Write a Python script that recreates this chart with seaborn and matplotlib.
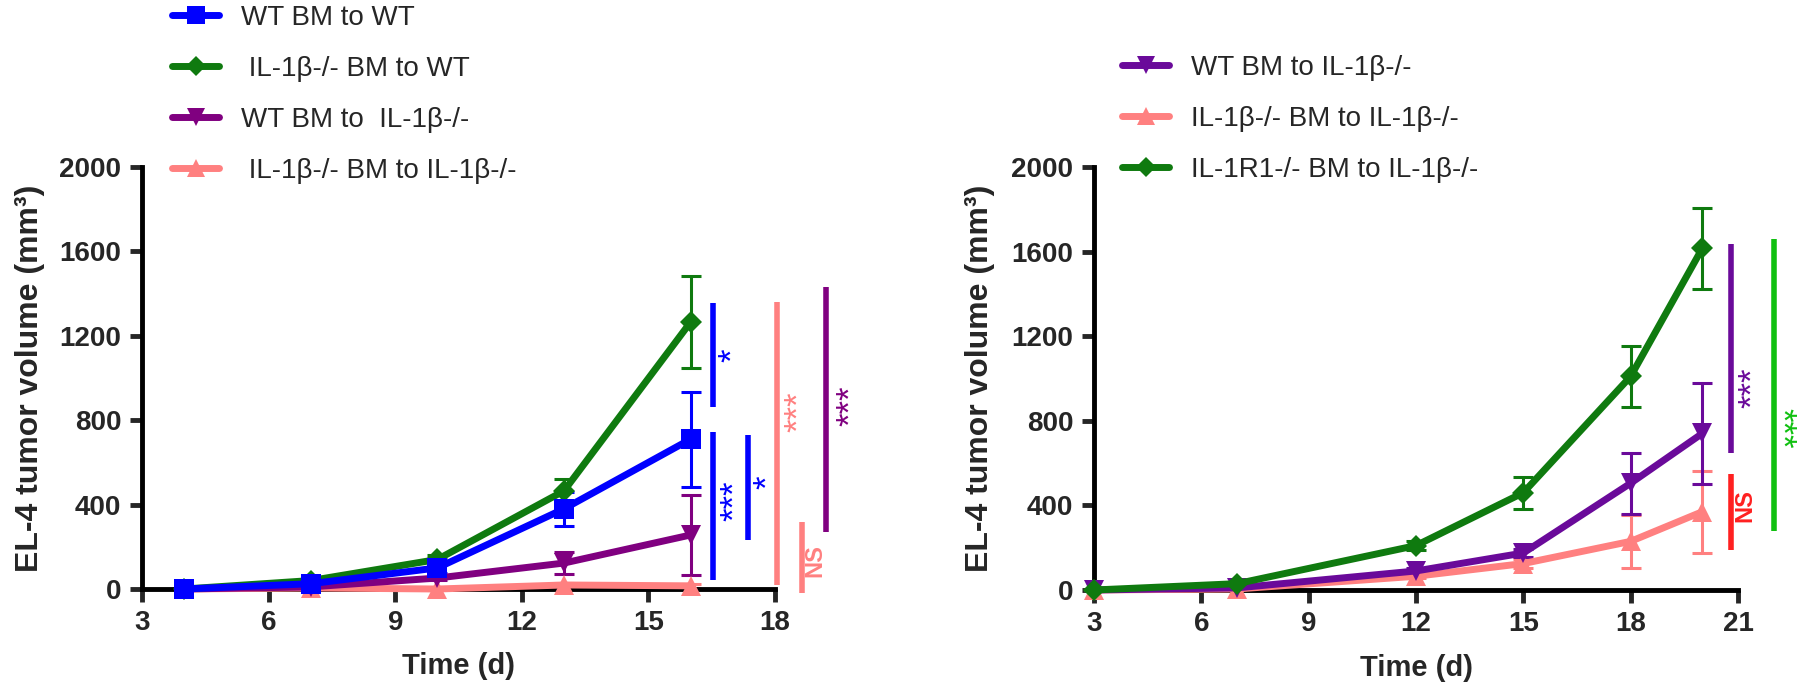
import numpy as np
import pandas as pd
import seaborn as sns
import matplotlib.pyplot as plt
from matplotlib.lines import Line2D

sns.set_style('white')
plt.rcParams['font.family'] = ['Liberation Sans', 'DejaVu Sans']

# ---- left panel data ----
days_left = [4, 7, 10, 13, 16]
wt_to_wt = [0, 25, 100, 380, 710]
wt_to_wt_err = [0, 8, 25, 82, 225]
ko_to_wt = [0, 40, 140, 465, 1265]
ko_to_wt_err = [0, 8, 20, 55, 218]
wt_to_ko = [0, 10, 52, 123, 256]
wt_to_ko_err = [0, 5, 10, 52, 190]
ko_to_ko = [0, 5, 0, 19, 15]
ko_to_ko_err = [0, 3, 5, 10, 10]

# ---- right panel data ----
days_right = [3, 7, 12, 15, 18, 20]
r_wt_to_ko = [0, 10, 90, 175, 505, 740]
r_wt_to_ko_err = [0, 5, 15, 20, 145, 240]
r_ko_to_ko = [0, 5, 65, 125, 230, 370]
r_ko_to_ko_err = [0, 5, 10, 20, 125, 195]
r_r1_to_ko = [0, 30, 210, 460, 1010, 1615]
r_r1_to_ko_err = [0, 10, 20, 75, 145, 190]

blue = '#0000ff'
green = '#0f7a0f'
purple_l = '#800080'
purple_r = '#6a0a9a'
pink = '#ff8080'

# significance bars: x, y_start, y_end, label, label_x, label_y, colour, text rotation
sig_left = [
    [16.53, 862, 1355, '*', 17.0, 1109, blue, 90],
    [16.53, 43, 744, '***', 17.05, 420, blue, 90],
    [17.36, 232, 730, '*', 17.83, 508, blue, 90],
    [18.05, 19, 1360, '***', 18.55, 840, pink, 90],
    [18.64, -19, 318, 'NS', 18.95, 137, pink, 90],
    [19.21, 270, 1431, '***', 19.8, 870, purple_l, 90],
]
sig_right = [
    [20.8, 646, 1637, '***', 21.4, 955, purple_r, 90],
    [20.8, 189, 547, 'NS', 21.2, 400, '#ff2020', 90],
    [22.0, 278, 1660, '***', 22.2, 764, '#10c010', -90],
]

left_series = [
    (' IL-1β-/- BM to IL-1β-/-', ko_to_ko, ko_to_ko_err, pink, '^'),
    ('WT BM to  IL-1β-/-', wt_to_ko, wt_to_ko_err, purple_l, 'v'),
    (' IL-1β-/- BM to WT', ko_to_wt, ko_to_wt_err, green, 'D'),
    ('WT BM to WT', wt_to_wt, wt_to_wt_err, blue, 's'),
]
left_legend_order = ['WT BM to WT', ' IL-1β-/- BM to WT', 'WT BM to  IL-1β-/-',
                     ' IL-1β-/- BM to IL-1β-/-']
right_series = [
    ('IL-1β-/- BM to IL-1β-/-', r_ko_to_ko, r_ko_to_ko_err, pink, '^'),
    ('WT BM to IL-1β-/-', r_wt_to_ko, r_wt_to_ko_err, purple_r, 'v'),
    ('IL-1R1-/- BM to IL-1β-/-', r_r1_to_ko, r_r1_to_ko_err, green, 'D'),
]
right_legend_order = ['WT BM to IL-1β-/-', 'IL-1β-/- BM to IL-1β-/-',
                      'IL-1R1-/- BM to IL-1β-/-']

fig = plt.figure(figsize=(18, 6.99), dpi=100)
ax1 = fig.add_axes([142/1800, 1-589/699, (775-142)/1800, (589-167)/699])
ax2 = fig.add_axes([1094/1800, 1-590/699, (1738-1094)/1800, (590-167)/699])

msize = {'s': 14, 'D': 11, 'v': 14, '^': 14}


def draw_panel(ax, days, series, order, sigs, xmax, leg_anchor):
    handles = {}
    for name, vals, errs, col, mk in series:
        df = pd.DataFrame({'day': days, 'vol': vals})
        ax.errorbar(days, vals, yerr=errs, fmt='none', ecolor=col,
                    elinewidth=2.2, capsize=7, capthick=2.2, clip_on=False, zorder=2)
        sns.lineplot(data=df, x='day', y='vol', ax=ax, color=col, lw=5,
                     marker=mk, markersize=msize[mk], markeredgewidth=0,
                     clip_on=False, zorder=3)
        handles[name] = Line2D([], [], color=col, lw=5, marker=mk,
                               markersize=msize[mk] * 0.9, markeredgewidth=0)
    ax.set_xlim(3, xmax)
    ax.set_ylim(0, 2000)
    ax.set_xticks(range(3, xmax + 1, 3))
    ax.set_yticks(range(0, 2001, 400))
    for s in ['top', 'right']:
        ax.spines[s].set_visible(False)
    for s in ['left', 'bottom']:
        ax.spines[s].set_linewidth(3.5)
        ax.spines[s].set_color('black')
    ax.tick_params(direction='out', length=9, width=3.5, labelsize=20, pad=6,
                   left=True, bottom=True)
    for lab in ax.get_xticklabels() + ax.get_yticklabels():
        lab.set_fontweight('bold')
    ax.set_xlabel('Time (d)', fontsize=21, fontweight='bold', labelpad=12)
    ax.set_ylabel('EL-4 tumor volume (mm³)', fontsize=23, fontweight='bold')
    for x, y0, y1, txt, tx, ty, col, rot in sigs:
        ax.plot([x, x], [y0, y1], color=col, lw=4, clip_on=False,
                solid_capstyle='butt')
        if txt == 'NS':
            ax.text(tx, ty, txt, color=col, fontsize=17, fontweight='bold',
                    rotation=rot, ha='center', va='center', clip_on=False)
        else:
            ax.text(tx, ty, txt, color=col, fontsize=25, rotation=rot,
                    ha='center', va='center', clip_on=False)
    ax.legend([handles[n] for n in order], order, loc='upper left',
              bbox_to_anchor=leg_anchor, bbox_transform=fig.transFigure,
              frameon=False, fontsize=20, handlelength=1.7, handletextpad=0.8,
              labelspacing=0.9, borderpad=0, borderaxespad=0)


draw_panel(ax1, days_left, left_series, left_legend_order, sig_left, 18,
           (172/1800, 1 - 5/699))
draw_panel(ax2, days_right, right_series, right_legend_order, sig_right, 21,
           (1122/1800, 1 - 55/699))
ax1.yaxis.set_label_coords(-0.153, 0.5)
ax2.yaxis.set_label_coords(-0.154, 0.5)

fig.savefig('out.png', dpi=100)
